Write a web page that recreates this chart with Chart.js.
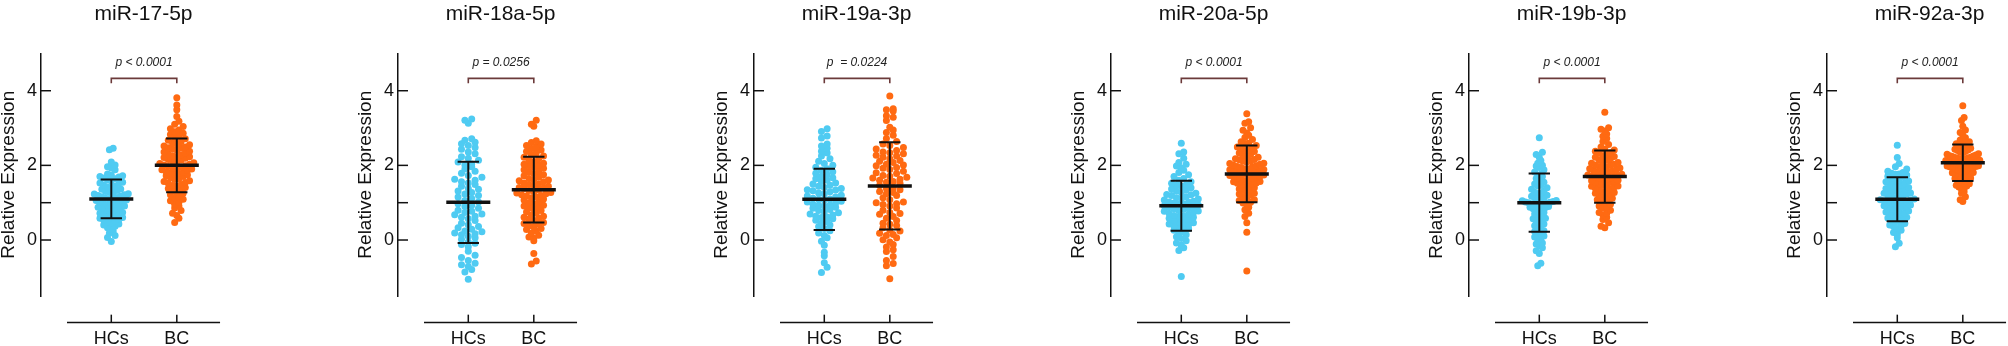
<!DOCTYPE html>
<html><head><meta charset="utf-8">
<script src="https://cdn.jsdelivr.net/npm/chart.js@4/dist/chart.umd.min.js"></script>
<style>
html,body{margin:0;padding:0;background:#fff;width:2008px;height:346px;overflow:hidden;position:relative;}
.panel{position:absolute;top:0;width:260px;height:346px;}
</style></head><body>
<script>
// ---------------- data ----------------
const titles = ['miR-17-5p','miR-18a-5p','miR-19a-3p','miR-20a-5p','miR-19b-3p','miR-92a-3p'];
const categories = ['HCs','BC'];
const pTexts = ['p < 0.0001','p = 0.0256','p  = 0.0224','p < 0.0001','p < 0.0001','p < 0.0001'];
const yTickValues = [0,1,2,4];
const yTickLabels = ['0','','2','4'];
const yTitle = 'Relative Expression';

const hc_miR17 = [2.46,2.42,2.09,2.01,1.96,1.93,1.88,1.77,1.74,1.72,1.70,1.69,1.66,1.64,1.61,1.58,1.55,1.53,1.52,1.47,1.44,1.42,1.41,1.37,1.36,1.33,1.30,1.28,1.27,1.24,1.21,1.19,1.18,1.16,1.14,1.12,1.11,1.09,1.07,1.06,1.03,1.01,0.99,0.98,0.96,0.94,0.93,0.91,0.88,0.87,0.85,0.83,0.81,0.79,0.78,0.74,0.72,0.70,0.69,0.66,0.64,0.62,0.60,0.58,0.55,0.53,0.51,0.49,0.46,0.43,0.40,0.37,0.33,0.29,0.24,0.19,0.12,0.07,-0.04,1.23];
const bc_miR17 = [3.81,3.62,3.49,3.31,3.18,3.10,3.04,2.98,2.95,2.90,2.86,2.83,2.78,2.74,2.71,2.67,2.63,2.60,2.58,2.55,2.52,2.49,2.47,2.44,2.41,2.38,2.36,2.33,2.30,2.28,2.26,2.23,2.21,2.19,2.16,2.14,2.12,2.10,2.07,2.05,2.03,2.01,1.99,1.97,1.95,1.92,1.90,1.88,1.86,1.83,1.81,1.79,1.76,1.74,1.72,1.70,1.67,1.64,1.62,1.59,1.57,1.54,1.52,1.49,1.46,1.44,1.41,1.38,1.35,1.31,1.28,1.25,1.21,1.17,1.13,1.09,1.05,1.01,0.96,0.91,0.86,0.79,0.72,0.66,0.58,0.47,2.24,1.93,2.46,1.78];
const hc_miR18a = [-1.05,-0.86,-0.79,-0.71,-0.66,-0.62,-0.55,-0.47,-0.41,-0.30,-0.18,-0.12,-0.09,-0.05,0.02,0.06,0.10,0.14,0.17,0.19,0.22,0.24,0.29,0.33,0.36,0.41,0.45,0.52,0.57,0.61,0.64,0.68,0.70,0.74,0.77,0.80,0.85,0.90,0.93,0.97,1.02,1.06,1.11,1.15,1.19,1.23,1.27,1.31,1.36,1.38,1.44,1.49,1.53,1.56,1.60,1.63,1.68,1.73,1.79,1.84,1.90,1.96,2.01,2.04,2.09,2.14,2.19,2.23,2.31,2.36,2.43,2.48,2.53,2.58,2.62,2.67,2.71,3.13,3.21,3.24];
const bc_miR18a = [-0.64,-0.56,-0.36,-0.02,0.05,0.08,0.13,0.19,0.24,0.28,0.31,0.35,0.38,0.42,0.44,0.47,0.52,0.56,0.61,0.64,0.68,0.72,0.75,0.79,0.83,0.86,0.89,0.93,0.97,1.00,1.03,1.07,1.10,1.13,1.16,1.19,1.21,1.24,1.27,1.30,1.33,1.35,1.38,1.41,1.44,1.47,1.50,1.53,1.56,1.59,1.62,1.65,1.68,1.72,1.75,1.78,1.82,1.85,1.88,1.92,1.95,1.99,2.03,2.06,2.10,2.14,2.18,2.22,2.25,2.29,2.33,2.37,2.41,2.45,2.49,2.53,2.57,2.61,2.66,3.05,3.10,3.21,1.26,1.18,1.49,0.91,1.61,0.58,2.01,1.39];
const hc_miR19a = [-0.87,-0.73,-0.61,-0.42,-0.33,-0.14,-0.03,0.06,0.12,0.19,0.25,0.31,0.36,0.40,0.45,0.49,0.53,0.57,0.60,0.64,0.67,0.70,0.73,0.76,0.79,0.82,0.85,0.88,0.91,0.94,0.96,0.99,1.02,1.04,1.07,1.10,1.12,1.15,1.18,1.20,1.23,1.26,1.29,1.32,1.35,1.38,1.41,1.44,1.47,1.50,1.53,1.57,1.60,1.64,1.67,1.71,1.75,1.79,1.83,1.87,1.91,1.95,2.00,2.05,2.11,2.18,2.25,2.33,2.38,2.46,2.52,2.57,2.73,2.79,2.91,2.98,0.93,1.09,1.34,0.62];
const bc_miR19a = [-1.04,-0.69,-0.63,-0.55,-0.44,-0.31,-0.26,-0.19,-0.12,-0.05,0.01,0.06,0.12,0.18,0.24,0.27,0.33,0.39,0.45,0.52,0.58,0.63,0.69,0.74,0.80,0.86,0.91,0.97,1.02,1.08,1.13,1.19,1.24,1.30,1.35,1.41,1.46,1.52,1.57,1.63,1.68,1.73,1.78,1.84,1.89,1.94,1.99,2.03,2.08,2.13,2.18,2.22,2.27,2.31,2.36,2.40,2.44,2.48,2.53,2.57,2.64,2.72,2.81,2.88,2.95,3.02,3.20,3.29,3.33,3.46,3.49,3.52,3.86,1.38,1.55,1.66,1.71,1.92,2.01,2.11,0.71,0.95,1.27,0.42,2.25,2.34,0.15,1.80,1.00,1.60];
const hc_miR20a = [-0.98,-0.28,-0.21,-0.14,-0.08,-0.02,0.04,0.09,0.14,0.18,0.22,0.26,0.30,0.33,0.37,0.40,0.43,0.46,0.49,0.52,0.55,0.58,0.61,0.63,0.66,0.69,0.71,0.74,0.77,0.79,0.82,0.84,0.87,0.89,0.92,0.94,0.97,0.99,1.02,1.04,1.07,1.10,1.13,1.16,1.19,1.22,1.25,1.28,1.31,1.34,1.37,1.40,1.44,1.48,1.52,1.56,1.60,1.65,1.70,1.75,1.81,1.87,1.93,1.98,2.03,2.08,2.19,2.31,2.36,2.59,0.51,0.64,0.86,1.01,1.21,0.35,1.47,0.78,1.12,0.96];
const bc_miR20a = [-0.83,0.21,0.46,0.63,0.72,0.81,0.88,0.95,1.01,1.06,1.11,1.16,1.20,1.25,1.29,1.33,1.37,1.40,1.44,1.47,1.50,1.53,1.56,1.59,1.62,1.65,1.68,1.70,1.73,1.76,1.78,1.81,1.83,1.86,1.89,1.91,1.94,1.97,2.00,2.03,2.06,2.09,2.12,2.15,2.18,2.22,2.25,2.29,2.33,2.37,2.41,2.45,2.49,2.53,2.58,2.63,2.69,2.75,2.81,2.87,2.94,3.01,3.13,3.17,3.38,1.52,1.61,1.74,1.85,1.96,2.05,1.43,1.91,2.27,1.66,1.99,1.35,2.16,1.79,2.40,1.08,1.57,2.11,1.71,1.88,2.47,1.23,0.99,2.59,1.82];
const hc_miR19b = [-0.69,-0.62,-0.36,-0.29,-0.21,-0.15,-0.08,-0.03,0.03,0.08,0.13,0.18,0.23,0.28,0.33,0.38,0.43,0.48,0.53,0.58,0.62,0.66,0.70,0.74,0.77,0.81,0.84,0.87,0.90,0.93,0.95,0.97,0.99,1.01,1.03,1.05,1.08,1.11,1.14,1.17,1.20,1.24,1.28,1.32,1.36,1.40,1.45,1.50,1.55,1.60,1.65,1.70,1.76,1.82,1.88,1.94,2.00,2.06,2.13,2.21,2.29,2.35,2.74,0.96,1.00,0.92,1.06,0.88,1.02,0.79,1.13,0.57,1.26,0.45,1.47,0.25,1.73,0.11,1.98,-0.11];
const bc_miR19b = [0.33,0.37,0.46,0.55,0.61,0.68,0.74,0.80,0.86,0.91,0.96,1.00,1.04,1.08,1.12,1.16,1.20,1.23,1.27,1.30,1.33,1.36,1.39,1.42,1.45,1.48,1.51,1.54,1.57,1.60,1.62,1.65,1.68,1.71,1.73,1.76,1.79,1.82,1.85,1.88,1.91,1.94,1.97,2.00,2.03,2.06,2.10,2.14,2.18,2.22,2.26,2.30,2.34,2.38,2.43,2.49,2.56,2.64,2.72,2.78,2.84,2.92,2.97,3.01,3.42,1.55,1.63,1.70,1.78,1.86,1.44,1.93,2.08,1.35,2.24,1.25,1.67,1.03,2.33,1.59,0.89,1.81,2.15,1.49,2.01,1.14,1.74,2.41,0.72,1.96];
const hc_miR92a = [-0.18,-0.09,0.06,0.15,0.20,0.26,0.31,0.36,0.40,0.44,0.48,0.52,0.56,0.59,0.63,0.66,0.69,0.72,0.75,0.78,0.81,0.84,0.87,0.90,0.92,0.95,0.98,1.00,1.03,1.05,1.08,1.10,1.13,1.15,1.18,1.20,1.23,1.26,1.29,1.32,1.35,1.38,1.41,1.44,1.47,1.50,1.53,1.56,1.59,1.62,1.65,1.68,1.71,1.74,1.77,1.79,1.81,1.84,1.90,1.96,2.05,2.21,2.54,0.94,1.07,0.83,1.17,0.71,1.31,0.61,1.45,0.50,1.76,0.99,1.25,0.88,1.58,0.38,1.02,1.36];
const bc_miR92a = [1.03,1.08,1.16,1.29,1.36,1.42,1.47,1.51,1.55,1.59,1.62,1.65,1.68,1.71,1.74,1.76,1.79,1.81,1.84,1.86,1.88,1.90,1.92,1.94,1.96,1.98,2.00,2.02,2.04,2.06,2.08,2.10,2.12,2.14,2.16,2.18,2.20,2.22,2.24,2.26,2.28,2.31,2.34,2.37,2.40,2.43,2.46,2.50,2.54,2.58,2.63,2.68,2.74,2.81,2.88,2.95,3.05,3.20,3.28,3.60,1.97,2.01,2.05,1.93,2.09,1.89,2.13,1.85,2.17,1.80,2.21,1.75,2.25,1.70,2.30,1.66,2.35,1.60,2.41,1.53,2.48,1.45,2.56,1.38,2.66,1.25,2.03,1.99,2.11,2.19];

// mean and SD
const hcMean = [1.10, 1.01, 1.09, 0.92, 1.00, 1.09];
const hcSD   = [0.52, 1.09, 0.82, 0.67, 0.78, 0.59];
const bcMean = [2.00, 1.35, 1.45, 1.77, 1.70, 2.07];
const bcSD   = [0.72, 0.88, 1.17, 0.76, 0.70, 0.49];

const hcSeries = [hc_miR17, hc_miR18a, hc_miR19a, hc_miR20a, hc_miR19b, hc_miR92a];
const bcSeries = [bc_miR17, bc_miR18a, bc_miR19a, bc_miR20a, bc_miR19b, bc_miR92a];

// ---------------- layout / style ----------------
const AXIS_LEFT = [40.7, 398.3, 754, 1111, 1469, 1826.7]; // page x of each y axis
const CANVAS_W = 288, CANVAS_H = 346, AXIS_OFFSET = 41;
const Y_MIN = -1.5, Y_MAX = 5;
const X_MIN = -1.073, X_MAX = 1.812;
const X_LINE_FROM = -0.676, X_LINE_TO = 1.66, X_AXIS_AT = -2.21, X_TICK_TOP = -2.0;
const BRACKET_LOW = 4.2, BRACKET_HIGH = 4.33, P_TEXT_AT = 4.75;
const PX_PER_X = 65.5, PX_PER_Y = 37.32;
const HC_COLOR = '#4FCBF2', BC_COLOR = '#FF6A12', BAR_COLOR = '#111111', BRACKET_COLOR = '#6B3A3A';
const FONT = '"Liberation Sans", Arial, Helvetica, sans-serif';

Chart.defaults.font.family = FONT;
Chart.defaults.color = '#111';

function swarm(values, center) {
  const binPx = 6, maxHalf = 17, dot = 6.8;
  const sorted = values.slice().sort((a, b) => a - b);
  const minV = sorted[0];
  const bins = new Map();
  sorted.forEach(v => {
    const b = Math.floor((v - minV) * PX_PER_Y / binPx);
    if (!bins.has(b)) bins.set(b, []);
    bins.get(b).push(v);
  });
  let maxCount = 1;
  bins.forEach(b => { maxCount = Math.max(maxCount, b.length); });
  const spacing = maxCount > 1 ? Math.min(dot, 2 * maxHalf / (maxCount - 1)) : dot;
  const pts = [];
  bins.forEach(b => {
    const n = b.length;
    const slots = [];
    for (let k = 0; k < n; k++) slots.push((k - (n - 1) / 2) * spacing);
    slots.sort((a, c) => Math.abs(a) - Math.abs(c) || a - c);
    b.forEach((v, k) => pts.push({ x: center + slots[k] / PX_PER_X, y: v }));
  });
  return pts;
}

function errorBar(center, m, s) {
  const cap = 0.163;
  return [
    { x: center - cap, y: m + s }, { x: center + cap, y: m + s }, { x: center, y: null },
    { x: center, y: m + s }, { x: center, y: m - s }, { x: center, y: null },
    { x: center - cap, y: m - s }, { x: center + cap, y: m - s }
  ];
}

const gpAxes = {
  id: 'gpAxes',
  afterDraw(chart, args, opts) {
    const { ctx, chartArea, scales: { x, y } } = chart;
    ctx.save();
    ctx.strokeStyle = '#111';
    ctx.lineWidth = 1.5;
    yTickValues.forEach(v => {
      const py = y.getPixelForValue(v);
      ctx.beginPath(); ctx.moveTo(chartArea.left, py); ctx.lineTo(chartArea.left + 10, py); ctx.stroke();
    });
    const ay = y.getPixelForValue(X_AXIS_AT);
    ctx.beginPath();
    ctx.moveTo(x.getPixelForValue(X_LINE_FROM), ay);
    ctx.lineTo(x.getPixelForValue(X_LINE_TO), ay);
    ctx.stroke();
    categories.forEach((c, i) => {
      const px = x.getPixelForValue(i);
      ctx.beginPath(); ctx.moveTo(px, ay); ctx.lineTo(px, y.getPixelForValue(X_TICK_TOP)); ctx.stroke();
    });
    // p-value text above the bracket
    ctx.font = 'italic 12px ' + FONT;
    ctx.fillStyle = '#222';
    ctx.textAlign = 'center';
    ctx.textBaseline = 'middle';
    ctx.fillText(opts.text, x.getPixelForValue(0.5), y.getPixelForValue(P_TEXT_AT));
    // panel title centred over the x axis
    ctx.font = '21px ' + FONT;
    ctx.fillStyle = '#111';
    ctx.textBaseline = 'alphabetic';
    ctx.fillText(opts.title, (x.getPixelForValue(X_LINE_FROM) + x.getPixelForValue(X_LINE_TO)) / 2, 20);
    ctx.restore();
  }
};

titles.forEach((title, i) => {
  const div = document.createElement('div');
  div.className = 'panel';
  div.style.left = (AXIS_LEFT[i] - AXIS_OFFSET) + 'px';
  div.style.width = CANVAS_W + 'px';
  const canvas = document.createElement('canvas');
  canvas.width = CANVAS_W; canvas.height = CANVAS_H;
  canvas.setAttribute('aria-label', title);
  div.appendChild(canvas);
  document.body.appendChild(div);

  new Chart(canvas, {
    type: 'scatter',
    data: {
      datasets: [
        { label: 'meanHC', data: [{ x: -0.336, y: hcMean[i] }, { x: 0.336, y: hcMean[i] }], showLine: true, pointRadius: 0, borderColor: BAR_COLOR, borderWidth: 3.5, order: 0 },
        { label: 'meanBC', data: [{ x: 1 - 0.336, y: bcMean[i] }, { x: 1.336, y: bcMean[i] }], showLine: true, pointRadius: 0, borderColor: BAR_COLOR, borderWidth: 3.5, order: 0 },
        { label: 'sdHC', data: errorBar(0, hcMean[i], hcSD[i]), showLine: true, spanGaps: false, pointRadius: 0, borderColor: BAR_COLOR, borderWidth: 2, order: 0 },
        { label: 'sdBC', data: errorBar(1, bcMean[i], bcSD[i]), showLine: true, spanGaps: false, pointRadius: 0, borderColor: BAR_COLOR, borderWidth: 2, order: 0 },
        { label: 'bracket', data: [{ x: 0, y: BRACKET_LOW }, { x: 0, y: BRACKET_HIGH }, { x: 1, y: BRACKET_HIGH }, { x: 1, y: BRACKET_LOW }], showLine: true, pointRadius: 0, borderColor: BRACKET_COLOR, borderWidth: 1.6, order: 0 },
        { label: categories[0], data: swarm(hcSeries[i], 0), pointRadius: 3.5, pointBackgroundColor: HC_COLOR, pointBorderWidth: 0, backgroundColor: HC_COLOR, order: 1 },
        { label: categories[1], data: swarm(bcSeries[i], 1), pointRadius: 3.5, pointBackgroundColor: BC_COLOR, pointBorderWidth: 0, backgroundColor: BC_COLOR, order: 1 }
      ]
    },
    options: {
      responsive: false,
      animation: false,
      devicePixelRatio: 1,
      layout: { padding: { left: 0, right: CANVAS_W - AXIS_OFFSET - 189, top: 53.4, bottom: 0 } },
      plugins: {
        legend: { display: false },
        tooltip: { enabled: false },
        title: { display: false },
        gpAxes: { text: pTexts[i], title: title }
      },
      scales: {
        x: {
          type: 'linear', min: X_MIN, max: X_MAX,
          grid: { display: false, drawTicks: false, tickLength: 0 }, border: { display: false },
          afterBuildTicks: s => { s.ticks = categories.map((c, k) => ({ value: k })); },
          afterFit: s => { s.height = 50; },
          ticks: { autoSkip: false, maxRotation: 0, padding: 32, color: '#111', font: { size: 18 }, callback: v => categories[v] }
        },
        y: {
          type: 'linear', min: Y_MIN, max: Y_MAX,
          grid: { display: false, drawTicks: false, tickLength: 0 },
          border: { display: true, color: '#111', width: 1.5 },
          afterBuildTicks: s => { s.ticks = yTickValues.map(v => ({ value: v })); },
          afterFit: s => { s.width = AXIS_OFFSET; },
          ticks: { padding: 4, color: '#111', font: { size: 18 }, callback: (v) => yTickLabels[yTickValues.indexOf(v)] },
          title: { display: true, text: yTitle, color: '#111', font: { size: 19, lineHeight: 0.88 }, padding: { top: 0, bottom: 0 } }
        }
      }
    },
    plugins: [gpAxes]
  });
});
</script>
</body></html>
